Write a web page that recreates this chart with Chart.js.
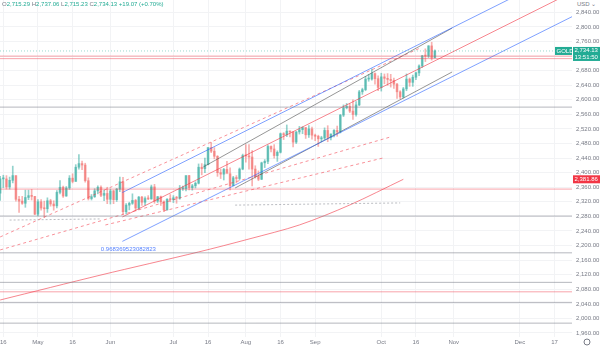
<!DOCTYPE html>
<html>
<head>
<meta charset="utf-8">
<script src="https://cdn.jsdelivr.net/npm/chart.js@4/dist/chart.umd.min.js"></script>
<style>
  body { margin: 0; background: #fff; }
  #wrap { position: relative; width: 600px; height: 348px; }
  #hdr { position: absolute; left: 2px; top: 1px; font: 6px "Liberation Sans", sans-serif; color: #22ab94; white-space: nowrap; }
  #hdr b { font-weight: normal; color: #787b86; }
  #usd { position: absolute; left: 574px; top: 0; width: 26px; height: 9px; background: #fff; font: 6px "Liberation Sans", sans-serif; color: #787b86; line-height: 9px; padding-left: 3px; box-sizing: border-box; }
</style>
</head>
<body>
<div id="wrap">
  <canvas id="c" width="600" height="348"></canvas>
  <div id="hdr"><b>O</b>2,715.29 <b>H</b>2,737.06 <b>L</b>2,715.23 <b>C</b>2,734.13 +19.07 (+0.70%)</div>
  <div id="usd">USD &#8964;</div>
</div>
<script>
// time axis (bar index 0 = Apr 15, one bar per weekday)
const tickBars = [1, 12, 23, 35, 55, 66, 78, 89, 100, 121, 132, 144, 165, 176];
const tickNames = ["16", "May", "16", "Jun", "Jul", "16", "Aug", "16", "Sep", "Oct", "16", "Nov", "Dec", "17"];
const priceTicks = [1960, 2000, 2040, 2080, 2120, 2160, 2200, 2240, 2280, 2320, 2360, 2400, 2440,
  2480, 2520, 2560, 2600, 2640, 2680, 2720, 2760, 2800, 2840];

// daily candles Apr 15 .. Oct 24
const opens = [2344,2383,2383,2361,2379,2392,2327,2322,2316,2332,2337,2335,2286,2320,2303,2301,2323,2314,2309,2346,
  2360,2336,2358,2385,2376,2415,2425,2421,2378,2329,2334,2350,2360,2338,2343,2327,2350,2326,2355,2375,
  2293,2311,2316,2324,2303,2333,2319,2329,2328,2361,2322,2334,2320,2298,2327,2326,2331,2330,2356,2356,
  2392,2359,2364,2371,2415,2411,2422,2469,2459,2445,2400,2396,2409,2397,2364,2386,2384,2410,2447,2446,
  2443,2410,2390,2382,2427,2431,2472,2465,2447,2456,2507,2504,2514,2512,2484,2512,2518,2524,2504,2520,
  2503,2500,2493,2495,2516,2497,2506,2516,2512,2558,2578,2582,2569,2560,2586,2622,2628,2657,2657,2672,
  2658,2634,2663,2659,2656,2653,2643,2622,2608,2630,2657,2648,2662,2674,2693,2721,2720,2748,2715.29];
const highs = [2390,2393,2392,2388,2418,2392,2335,2335,2352,2352,2354,2335,2326,2326,2322,2331,2327,2323,2351,2378,
  2363,2362,2392,2397,2422,2450,2432,2426,2386,2340,2356,2364,2364,2352,2360,2355,2352,2357,2388,2387,
  2315,2319,2342,2327,2335,2335,2334,2337,2366,2368,2335,2336,2323,2329,2340,2337,2335,2365,2363,2392,
  2393,2368,2375,2424,2425,2440,2469,2483,2469,2447,2410,2412,2431,2413,2390,2392,2413,2451,2477,2477,
  2461,2419,2405,2429,2436,2476,2474,2477,2460,2509,2510,2531,2514,2512,2513,2527,2526,2524,2529,2525,
  2506,2503,2500,2523,2529,2507,2518,2528,2560,2586,2590,2589,2600,2595,2626,2632,2664,2670,2685,2674,
  2666,2673,2671,2672,2670,2660,2645,2625,2634,2671,2660,2668,2676,2696,2722,2740,2749,2758,2737.06];
const lows = [2324,2359,2355,2355,2372,2322,2291,2313,2305,2326,2325,2285,2281,2297,2277,2291,2308,2297,2303,2342,
  2332,2335,2354,2372,2376,2410,2408,2374,2325,2325,2332,2342,2334,2323,2315,2314,2315,2321,2348,2286,
  2287,2298,2313,2295,2299,2310,2311,2326,2327,2316,2318,2310,2293,2297,2320,2318,2316,2327,2351,2350,
  2353,2352,2358,2369,2394,2400,2421,2455,2438,2390,2384,2380,2401,2353,2364,2372,2380,2408,2429,2410,
  2364,2385,2378,2381,2414,2425,2457,2440,2431,2454,2491,2499,2498,2471,2480,2506,2507,2494,2497,2492,
  2488,2472,2485,2491,2485,2490,2498,2500,2509,2554,2575,2565,2546,2555,2584,2615,2625,2651,2654,2643,
  2625,2624,2644,2640,2635,2631,2604,2603,2605,2625,2637,2637,2655,2666,2689,2705,2716,2709,2715.23];
const closes = [2383,2383,2361,2379,2392,2327,2322,2316,2332,2337,2335,2286,2320,2303,2301,2323,2314,2309,2346,2360,
  2336,2358,2385,2376,2415,2425,2421,2378,2329,2334,2350,2360,2338,2343,2327,2350,2326,2355,2375,2293,
  2311,2316,2324,2303,2333,2319,2329,2328,2361,2322,2334,2320,2298,2327,2326,2331,2330,2356,2356,2392,
  2359,2364,2371,2415,2411,2422,2469,2459,2445,2400,2396,2409,2397,2364,2386,2384,2410,2447,2446,2443,
  2410,2390,2382,2427,2431,2472,2465,2447,2456,2507,2504,2514,2512,2484,2512,2518,2524,2504,2520,2503,
  2500,2493,2495,2516,2497,2506,2516,2512,2558,2578,2582,2569,2560,2586,2622,2628,2657,2657,2672,2658,
  2634,2663,2659,2656,2653,2643,2622,2608,2630,2657,2648,2662,2674,2693,2721,2720,2748,2715,2734.13];

// horizontal levels
const grayLevels = [2580, 2281, 2180, 2099, 2044, 1987];
const redLevels = [2355, 2073, 2713, 2720];
const lastPrice = 2734.13;

// drawings in [bar, price, bar, price]
const regStart = [38.8, 2278.5];
const regSlope = 4.32;
const regBand = 67;
const pearsonR = "0.968369523082823";
const grayChannel = [[64.5, 2415.7, 143.5, 2797], [74.6, 2358, 143.5, 2676.5]];
const redDashed = [[0, 2223.6, 133.4, 2742.4], [0, 2188, 123.9, 2498], [33.4, 2256.5, 121.6, 2440.4]];
const grayDashed = [[74.6, 2311, 127, 2317], [3, 2270, 31.8, 2273]];
const smaBars = [0, 32, 63, 79, 95, 111, 128];
const smaValues = [2050.6, 2119.2, 2182.4, 2218, 2256.5, 2311.4, 2381.86];

const xMin = -0.05, xMax = 181.55;
const yMin = 1949, yMax = 2874;

const UP = "rgba(38,166,154,0.5)", DOWN = "rgba(239,83,80,0.45)";
const up = closes.map((c, i) => c >= opens[i]);

function seg(a, color, dash) {
  return {
    type: "line", data: [{ x: a[0], y: a[1] }, { x: a[2], y: a[3] }],
    borderColor: color, borderWidth: 1, borderDash: dash || [], pointRadius: 0, order: 1
  };
}
function level(v, color, dash) {
  return seg([xMin, v, xMax, v], color, dash);
}

const datasets = [];
datasets.push({
  type: "bar", data: closes.map((c, i) => ({ x: i, y: [lows[i], highs[i]] })),
  backgroundColor: up.map(u => u ? UP : DOWN), barThickness: 1, grouped: false, order: 6
});
datasets.push({
  type: "bar", data: closes.map((c, i) => ({ x: i, y: [opens[i], c] })),
  backgroundColor: up.map(u => u ? UP : DOWN), barThickness: 2, minBarLength: 1, grouped: false, order: 5
});
grayLevels.forEach(v => datasets.push(level(v, "rgba(120,123,134,0.55)")));
redLevels.forEach(v => datasets.push(level(v, "rgba(242,54,69,0.45)")));
datasets.push(level(lastPrice, "rgba(34,171,148,0.45)", [1, 2]));

// regression trend, extended right
const regEnd = regStart[1] + regSlope * (xMax - regStart[0]);
datasets.push(seg([regStart[0], regStart[1], xMax, regEnd], "rgba(242,54,69,0.6)"));
datasets.push(seg([regStart[0], regStart[1] + regBand, xMax, regEnd + regBand], "rgba(41,98,255,0.6)"));
datasets.push(seg([regStart[0], regStart[1] - regBand, xMax, regEnd - regBand], "rgba(41,98,255,0.6)"));
grayChannel.forEach(a => datasets.push(seg(a, "rgba(80,80,80,0.6)")));
redDashed.forEach(a => datasets.push(seg(a, "rgba(242,54,69,0.55)", [3, 3])));
grayDashed.forEach(a => datasets.push(seg(a, "rgba(120,123,134,0.5)", [2, 2])));
datasets.push({
  type: "line", data: smaBars.map((b, i) => ({ x: b, y: smaValues[i] })),
  borderColor: "rgba(242,54,69,0.6)", borderWidth: 1, pointRadius: 0, tension: 0.3, order: 2
});

function tag(ctx, x, y, w, h, bg, lines) {
  ctx.fillStyle = bg;
  ctx.fillRect(x, y, w, h);
  ctx.fillStyle = "#fff";
  ctx.textAlign = "left";
  ctx.textBaseline = "middle";
  const step = h / lines.length;
  lines.forEach((t, k) => ctx.fillText(t, x + 1.5, y + step * (k + 0.5)));
}

const tagsPlugin = {
  id: "tags",
  afterDraw(chart) {
    const { ctx, scales: { x, y }, chartArea } = chart;
    ctx.save();
    ctx.font = "6px 'Liberation Sans', sans-serif";
    const right = chartArea.right;
    const py = y.getPixelForValue(lastPrice);
    tag(ctx, right - 17, py - 4, 17, 8, "#22ab94", ["GOLD"]);
    tag(ctx, right + 1, py - 4, 600 - right - 1, 14, "#22ab94", ["2,734.13", "13:51:50"]);
    const sy = y.getPixelForValue(smaValues[smaValues.length - 1]);
    tag(ctx, right + 1, sy - 4, 600 - right - 1, 8, "#f23645", ["2,381.86"]);
    // Pearson's R under the regression start
    ctx.fillStyle = "rgba(41,98,255,0.8)";
    ctx.textAlign = "center";
    ctx.textBaseline = "middle";
    ctx.fillText(pearsonR, x.getPixelForValue(regStart[0]) + 6,
      y.getPixelForValue(regStart[1] - regBand) + 8);
    // settings gear
    ctx.strokeStyle = "#787b86";
    ctx.beginPath();
    ctx.arc(587, chartArea.bottom + 5, 3, 0, Math.PI * 2);
    ctx.stroke();
    ctx.restore();
  }
};

new Chart(document.getElementById("c"), {
  type: "bar",
  data: { datasets },
  plugins: [tagsPlugin],
  options: {
    responsive: false,
    animation: false,
    layout: { padding: 0, autoPadding: false },
    plugins: { legend: { display: false }, tooltip: { enabled: false } },
    scales: {
      x: {
        type: "linear", min: xMin, max: xMax, offset: false,
        grid: { color: "#f2f3f5", drawTicks: false, offset: false },
        border: { display: false },
        afterBuildTicks: s => { s.ticks = tickBars.map(v => ({ value: v })); },
        afterFit: s => { s.height = 11; s.paddingLeft = 0; s.paddingRight = 0; },
        ticks: {
          autoSkip: false, maxRotation: 0, padding: 2, color: "#787b86",
          font: { size: 6, family: "Liberation Sans" },
          callback: (v) => tickNames[tickBars.indexOf(v)]
        }
      },
      y: {
        type: "linear", position: "right", min: yMin, max: yMax,
        grid: { color: "#f2f3f5", drawTicks: false },
        border: { display: false },
        afterBuildTicks: s => { s.ticks = priceTicks.map(v => ({ value: v })); },
        afterFit: s => { s.width = 28; s.paddingTop = 0; s.paddingBottom = 0; },
        ticks: {
          padding: 4, color: "#787b86",
          font: { size: 6, family: "Liberation Sans" },
          callback: v => v.toLocaleString("en-US", { minimumFractionDigits: 2, maximumFractionDigits: 2 })
        }
      }
    }
  }
});
</script>
</body>
</html>
